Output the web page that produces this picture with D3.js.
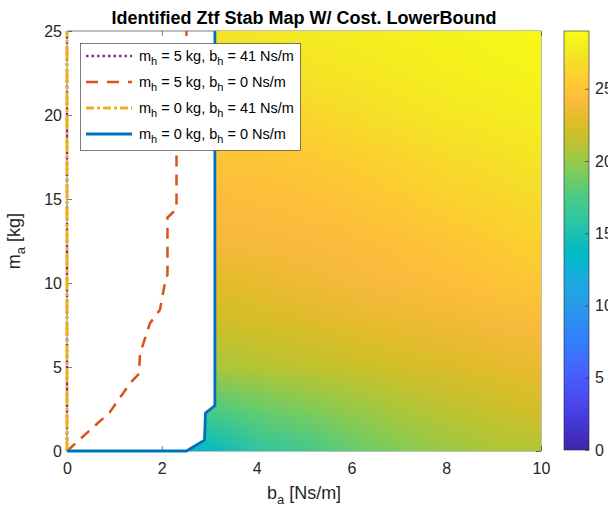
<!DOCTYPE html>
<html>
<head>
<meta charset="utf-8">
<script src="https://cdn.jsdelivr.net/npm/d3@7"></script>
<style>
  body { margin: 0; background: #fff; }
  svg { display: block; font-family: "Liberation Sans", Arial, sans-serif; }
</style>
</head>
<body>
<svg id="chart" width="608" height="506"></svg>
<script>
// ---- data ----
const bVals = [2, 3, 4, 5, 6, 7, 8, 9, 10];          // b_a grid [Ns/m]
const mVals = [0, 2.5, 5, 7.5, 10, 12.5, 15, 17.5, 20, 22.5, 25]; // m_a grid [kg]
// cost values, one row per m_a (bottom to top), one column per b_a
const heat = [
    [11.0, 13.8, 15.8, 17.0, 18.3, 19.4, 20.2, 20.7, 21.0],
    [16.0, 17.5, 18.4, 19.2, 20.0, 20.7, 21.3, 21.8, 22.2],
    [19.5, 20.5, 21.0, 21.4, 21.8, 22.2, 22.5, 22.9, 23.2],
    [21.4, 21.8, 22.2, 22.5, 22.9, 23.2, 23.5, 23.8, 24.1],
    [22.4, 22.8, 23.1, 23.5, 23.8, 24.1, 24.4, 24.8, 25.2],
    [23.4, 23.7, 24.0, 24.1, 24.3, 24.6, 25.0, 25.5, 26.0],
    [24.1, 24.3, 24.4, 24.6, 25.0, 25.4, 25.9, 26.3, 26.7],
    [24.8, 25.0, 25.0, 25.3, 25.7, 26.1, 26.6, 27.0, 27.4],
    [25.6, 25.8, 26.0, 26.3, 26.7, 27.1, 27.5, 27.8, 28.1],
    [26.4, 26.6, 26.9, 27.2, 27.5, 27.8, 28.1, 28.3, 28.5],
    [27.1, 27.3, 27.5, 27.8, 28.0, 28.2, 28.4, 28.6, 28.8]
];

// stability boundaries, [b_a, m_a]
const lineA = [[0, 0], [0, 25]];                       // m_h = 5, b_h = 41
const lineB = [[0, 0], [0.9, 2.3], [1.35, 4.1], [1.52, 4.6], [1.54, 5.8], [1.75, 7.6],
               [1.96, 8.4], [2.08, 10.2], [2.12, 10.5], [2.12, 13.9], [2.31, 14.4],
               [2.31, 20], [2.5, 21], [2.52, 25]];      // m_h = 5, b_h = 0
const lineC = [[0, 0], [0, 25]];                       // m_h = 0, b_h = 41
const lineD = [[0, 0], [2.52, 0], [2.9, 0.65], [2.92, 2.25], [3.12, 2.7], [3.12, 25]]; // m_h = 0, b_h = 0

const seriesNames = [
    "m_h = 5 kg, b_h = 41 Ns/m",
    "m_h = 5 kg, b_h = 0 Ns/m",
    "m_h = 0 kg, b_h = 41 Ns/m",
    "m_h = 0 kg, b_h = 0 Ns/m"
];

const xTicks = [0, 2, 4, 6, 8, 10];
const yTicks = [0, 5, 10, 15, 20, 25];
const cbTicks = [0, 5, 10, 15, 20, 25];
const cLim = [0, 29];

// parula colormap (index out of 64, colour)
const parula = [
    [1, "#3e26a8"], [3, "#422ec0"], [5, "#4537d5"], [7, "#4741e5"], [9, "#484df0"],
    [11, "#4758f8"], [13, "#4563fd"], [15, "#3e6fff"], [17, "#327cfc"], [19, "#2e87f7"],
    [21, "#2b91ef"], [23, "#259be8"], [25, "#20a5e3"], [27, "#18addb"], [29, "#08b5d0"],
    [31, "#02bac3"], [33, "#19bfb6"], [35, "#2cc4a7"], [37, "#37c897"], [39, "#4acb84"],
    [41, "#64cd6f"], [43, "#81cc59"], [45, "#9dc943"], [47, "#b9c431"], [49, "#d1bf27"],
    [51, "#e6bb2d"], [53, "#f8ba3d"], [54, "#febd3c"], [55, "#fec338"], [57, "#fccf30"],
    [59, "#f7dc2a"], [61, "#f5e924"], [63, "#f7f51b"], [64, "#f9fb15"]
];

// ---- setup ----
const svg = d3.select("#chart");
const axisColor = "#262626";
const tickFont = 16;

const x = d3.scaleLinear().domain([0, 10]).range([67, 541]);
const y = d3.scaleLinear().domain([0, 25]).range([451, 31]);
const cy = d3.scaleLinear().domain(cLim).range([450, 31]);

const color = d3.scaleLinear()
    .domain(parula.map(d => cLim[0] + (d[0] - 1) / 63 * (cLim[1] - cLim[0])))
    .range(parula.map(d => d[1]))
    .interpolate(d3.interpolateRgb)
    .clamp(true);

// text with "_x" as subscript
function subText(sel, str, subSize, shift) {
    const parts = str.split(/_(\w)/);
    let down = false;
    parts.forEach((p, i) => {
        if (p === "") return;
        const isSub = i % 2 === 1;
        const t = sel.append("tspan").text(p);
        if (isSub) {
            t.attr("font-size", subSize).attr("dy", down ? 0 : shift);
            down = true;
        } else if (down) {
            t.attr("dy", -shift);
            down = false;
        }
    });
}

// ---- axes box and ticks ----
svg.append("rect")
    .attr("x", x(0)).attr("y", y(25))
    .attr("width", x(10) - x(0)).attr("height", y(0) - y(25))
    .attr("fill", "none").attr("stroke", axisColor).attr("stroke-width", 0.6);

svg.append("g").attr("transform", `translate(0,${y(0)})`)
    .call(d3.axisBottom(x).tickValues(xTicks).tickSizeInner(-5).tickSizeOuter(0).tickPadding(12));
svg.append("g").attr("transform", `translate(${x(0)},0)`)
    .call(d3.axisLeft(y).tickValues(yTicks).tickSizeInner(-5).tickSizeOuter(0).tickPadding(5));
svg.append("g").attr("transform", `translate(0,${y(25)})`)
    .call(d3.axisTop(x).tickValues(xTicks).tickSizeInner(-5).tickSizeOuter(0).tickFormat(""));
svg.append("g").attr("transform", `translate(${x(10)},0)`)
    .call(d3.axisRight(y).tickValues(yTicks).tickSizeInner(-5).tickSizeOuter(0).tickFormat(""));

svg.selectAll(".domain").remove();
svg.selectAll(".tick line").attr("stroke", axisColor).attr("stroke-width", 0.6);
svg.selectAll(".tick text").attr("fill", axisColor).attr("font-size", tickFont)
    .attr("font-family", "Liberation Sans, Arial, sans-serif");

// ---- heat map ----
const canvas = document.createElement("canvas");
canvas.width = bVals.length;
canvas.height = mVals.length;
const ctx = canvas.getContext("2d");
const img = ctx.createImageData(canvas.width, canvas.height);
for (let r = 0; r < mVals.length; r++) {
    const row = heat[mVals.length - 1 - r];
    for (let c = 0; c < bVals.length; c++) {
        const col = d3.rgb(color(row[c]));
        const k = (r * bVals.length + c) * 4;
        img.data[k] = col.r; img.data[k + 1] = col.g; img.data[k + 2] = col.b; img.data[k + 3] = 255;
    }
}
ctx.putImageData(img, 0, 0);

const db = bVals[1] - bVals[0];
const dm = mVals[1] - mVals[0];

const clipPts = lineD.concat([[10, 25], [10, 0]]);
svg.append("clipPath").attr("id", "stableClip")
    .append("polygon")
    .attr("points", clipPts.map(d => `${x(d[0])},${y(d[1])}`).join(" "));

svg.append("image")
    .attr("href", canvas.toDataURL())
    .attr("x", x(bVals[0] - db / 2))
    .attr("y", y(mVals[mVals.length - 1] + dm / 2))
    .attr("width", x(bVals[bVals.length - 1] + db / 2) - x(bVals[0] - db / 2))
    .attr("height", y(mVals[0] - dm / 2) - y(mVals[mVals.length - 1] + dm / 2))
    .attr("preserveAspectRatio", "none")
    .style("image-rendering", "auto")
    .attr("clip-path", "url(#stableClip)");

// ---- boundary lines ----
const line = d3.line().x(d => x(d[0])).y(d => y(d[1]));
const styles = [
    { data: lineA, stroke: "#7e2f8e", width: 2.5, dash: "2.5,3", legDash: "2.5,3" },
    { data: lineB, stroke: "#d95319", width: 2.5, dash: "11,8", legDash: "12,9" },
    { data: lineC, stroke: "#edb120", width: 3, dash: "14,3,3,3", legDash: "8,3,3,3" },
    { data: lineD, stroke: "#0072bd", width: 2.8, dash: null, legDash: null }
];
styles.forEach(s => {
    svg.append("path")
        .attr("d", line(s.data))
        .attr("fill", "none")
        .attr("stroke", s.stroke)
        .attr("stroke-width", s.width)
        .attr("stroke-dasharray", s.dash)
        .attr("stroke-linejoin", "round");
});

// ---- legend ----
const lg = svg.append("g");
lg.append("rect")
    .attr("x", 80.5).attr("y", 43.5).attr("width", 220).attr("height", 107)
    .attr("fill", "#fff").attr("stroke", axisColor).attr("stroke-width", 0.6);
seriesNames.forEach((name, i) => {
    const ly = 56 + i * 26;
    const s = styles[i];
    lg.append("line")
        .attr("x1", 86).attr("x2", 132).attr("y1", ly).attr("y2", ly)
        .attr("stroke", s.stroke).attr("stroke-width", s.width)
        .attr("stroke-dasharray", s.legDash);
    const t = lg.append("text").attr("x", 139).attr("y", ly + 5)
        .attr("font-size", 14.5).attr("fill", "#000");
    subText(t, name, 11, 4);
});

// ---- colorbar ----
const grad = svg.append("defs").append("linearGradient")
    .attr("id", "cbGrad").attr("x1", 0).attr("y1", 1).attr("x2", 0).attr("y2", 0);
parula.forEach(d => {
    grad.append("stop").attr("offset", (d[0] - 1) / 63).attr("stop-color", d[1]);
});
svg.append("rect")
    .attr("x", 564).attr("y", cy(cLim[1]))
    .attr("width", 25).attr("height", cy(cLim[0]) - cy(cLim[1]))
    .attr("fill", "url(#cbGrad)").attr("stroke", axisColor).attr("stroke-width", 0.6);
const gcb = svg.append("g").attr("transform", "translate(589,0)")
    .call(d3.axisRight(cy).tickValues(cbTicks).tickSizeInner(-4).tickSizeOuter(0).tickPadding(6));
gcb.select(".domain").remove();
gcb.selectAll(".tick line").attr("stroke", axisColor).attr("stroke-width", 0.6);
gcb.selectAll(".tick text").attr("fill", axisColor).attr("font-size", tickFont)
    .attr("font-family", "Liberation Sans, Arial, sans-serif");

// ---- title and labels ----
svg.append("text")
    .attr("x", 304).attr("y", 24).attr("text-anchor", "middle")
    .attr("font-size", 18).attr("font-weight", "bold").attr("fill", "#000")
    .text("Identified Ztf Stab Map W/ Cost. LowerBound");

const xl = svg.append("text")
    .attr("x", 304).attr("y", 499).attr("text-anchor", "middle")
    .attr("font-size", 18).attr("fill", axisColor);
subText(xl, "b_a [Ns/m]", 13, 5);

const yl = svg.append("text")
    .attr("transform", "translate(20,241) rotate(-90)").attr("text-anchor", "middle")
    .attr("font-size", 18).attr("fill", axisColor);
subText(yl, "m_a [kg]", 13, 5);
</script>
</body>
</html>
